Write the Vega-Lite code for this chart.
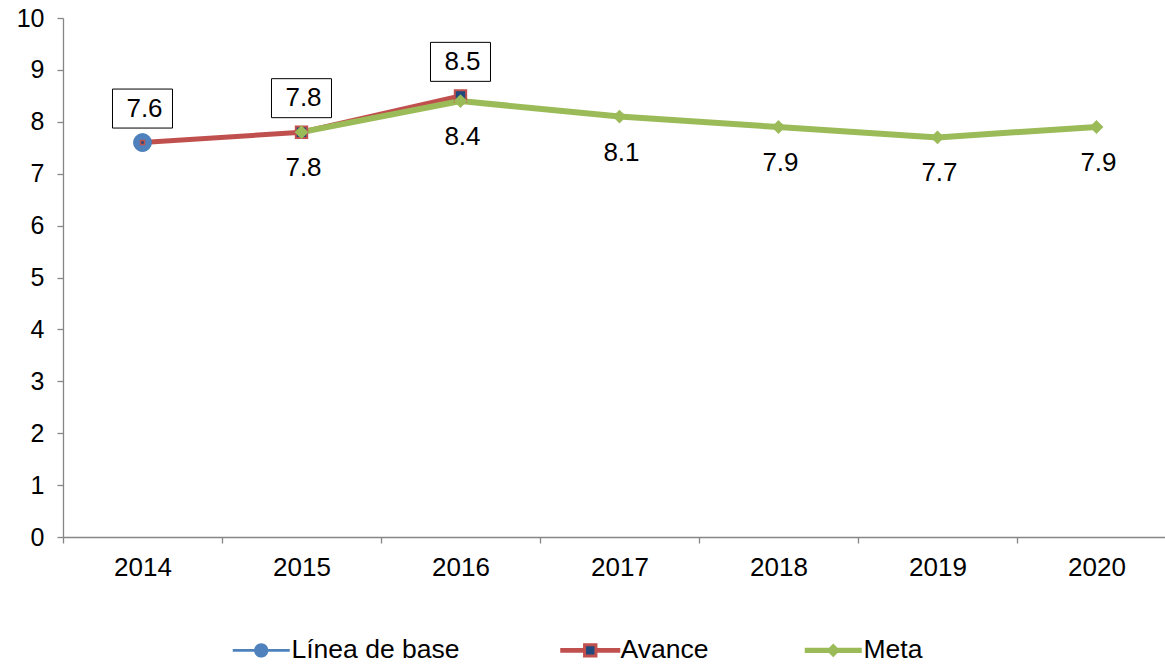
{
  "$schema": "https://vega.github.io/schema/vega-lite/v6.json",
  "width": 1102,
  "height": 519,
  "autosize": {"type": "none"},
  "padding": {"left": 63, "top": 18, "right": 0, "bottom": 127},
  "background": "white",
  "config": {
    "view": {"stroke": null},
    "font": "Liberation Sans",
    "axis": {
      "grid": false,
      "title": null,
      "domainColor": "#868686",
      "tickColor": "#868686",
      "domainWidth": 1.3,
      "tickWidth": 1.3,
      "tickSize": 6,
      "labelFont": "Liberation Sans",
      "labelFontSize": 26,
      "labelColor": "#000000"
    }
  },
  "data": {
    "values": [
      {"year": 2014, "series": "Línea de base", "value": 7.6},
      {"year": 2014, "series": "Avance", "value": 7.6},
      {"year": 2015, "series": "Avance", "value": 7.8},
      {"year": 2016, "series": "Avance", "value": 8.5},
      {"year": 2015, "series": "Meta", "value": 7.8},
      {"year": 2016, "series": "Meta", "value": 8.4},
      {"year": 2017, "series": "Meta", "value": 8.1},
      {"year": 2018, "series": "Meta", "value": 7.9},
      {"year": 2019, "series": "Meta", "value": 7.7},
      {"year": 2020, "series": "Meta", "value": 7.9}
    ]
  },
  "encoding": {
    "x": {
      "field": "year",
      "type": "quantitative",
      "scale": {"domain": [2013.5, 2020.431], "nice": false, "zero": false},
      "axis": {
        "values": [2014, 2015, 2016, 2017, 2018, 2019, 2020],
        "format": "d",
        "tickOffset": -79.5,
        "labelOffset": 79.5,
        "labelPadding": 11
      }
    },
    "y": {
      "field": "value",
      "type": "quantitative",
      "scale": {"domain": [0, 10], "nice": false},
      "axis": {
        "values": [0, 1, 2, 3, 4, 5, 6, 7, 8, 9, 10],
        "labelFontSize": 25,
        "labelPadding": 13
      }
    }
  },
  "layer": [
    {
      "transform": [{"filter": "datum.series === 'Avance'"}],
      "mark": {"type": "line", "strokeWidth": 5},
      "encoding": {
        "color": {
          "field": "series",
          "type": "nominal",
          "scale": {
            "domain": ["Línea de base", "Avance", "Meta"],
            "range": ["#4F81BD", "#C0504D", "#9BBB59"]
          },
          "legend": {
            "title": null,
            "orient": "none",
            "direction": "horizontal",
            "legendX": 185,
            "legendY": 619,
            "symbolSize": 3249,
            "labelFont": "Liberation Sans",
            "labelFontSize": 26.5,
            "labelColor": "#000000",
            "labelOffset": 17,
            "labelLimit": 400,
            "columnPadding": 95,
            "padding": 0,
            "encode": {
              "symbols": {
                "update": {
                  "shape": {"signal": "datum.value === 'Meta' ? 'M-1,-0.09H1V0.09H-1Z M0,-0.24L0.24,0L0,0.24L-0.24,0Z' : datum.value === 'Avance' ? 'M-1,-0.03H-0.2V0.03H-1Z M0.2,-0.03H1V0.03H0.2Z M-0.2,-0.2H0.2V0.2H-0.2Z' : 'M-1,-0.05H1V0.05H-1Z M0.25,0A0.25,0.25 0 1,1 -0.25,0A0.25,0.25 0 1,1 0.25,0Z'"},
                  "fill": {"signal": "datum.value === 'Meta' ? '#9BBB59' : datum.value === 'Avance' ? '#1F497D' : '#4F81BD'"},
                  "stroke": {"signal": "datum.value === 'Avance' ? '#C0504D' : 'transparent'"},
                  "strokeWidth": {"signal": "datum.value === 'Avance' ? 3 : 0"},
                  "opacity": {"value": 1},
                  "fillOpacity": {"value": 1}
                }
              }
            }
          }
        }
      }
    },
    {
      "transform": [{"filter": "datum.series === 'Meta'"}],
      "mark": {"type": "line", "strokeWidth": 6},
      "encoding": {
        "color": {"field": "series", "type": "nominal"}
      }
    },
    {
      "transform": [{"filter": "datum.series === 'Línea de base'"}],
      "mark": {"type": "point", "shape": "circle", "filled": true, "size": 320, "fill": "#4F81BD", "stroke": "#4A7EBB", "strokeWidth": 1, "opacity": 1}
    },
    {
      "transform": [{"filter": "datum.series === 'Avance' && datum.year > 2014"}],
      "mark": {"type": "point", "shape": "square", "filled": true, "size": 130, "fill": "#1F497D", "stroke": "#C0504D", "strokeWidth": 2, "opacity": 1}
    },
    {
      "transform": [{"filter": "datum.series === 'Avance' && datum.year === 2014"}],
      "mark": {"type": "point", "shape": "square", "filled": true, "size": 16, "fill": "#1F497D", "stroke": "#C0504D", "strokeWidth": 1.5, "opacity": 1}
    },
    {
      "transform": [{"filter": "datum.series === 'Meta'"}],
      "mark": {"type": "point", "shape": "diamond", "filled": true, "size": 190, "fill": "#9BBB59", "opacity": 1}
    },
    {
      "transform": [{"filter": "datum.series === 'Avance'"}],
      "mark": {"type": "point", "shape": "M-1,-0.65H1V0.65H-1Z", "filled": false, "size": 3600, "fill": "#FFFFFF", "fillOpacity": 1, "stroke": "#000000", "strokeWidth": 1, "opacity": 1, "yOffset": -34}
    },
    {
      "transform": [{"filter": "datum.series === 'Avance'"}],
      "mark": {"type": "text", "fontSize": 26, "font": "Liberation Sans", "color": "#000000", "dy": -34, "dx": 2, "baseline": "middle", "align": "center"},
      "encoding": {"text": {"field": "value", "type": "quantitative", "format": ".1f"}}
    },
    {
      "transform": [{"filter": "datum.series === 'Meta'"}],
      "mark": {"type": "text", "fontSize": 26, "font": "Liberation Sans", "color": "#000000", "dy": 36, "dx": 2, "baseline": "middle", "align": "center"},
      "encoding": {"text": {"field": "value", "type": "quantitative", "format": ".1f"}}
    }
  ]
}
